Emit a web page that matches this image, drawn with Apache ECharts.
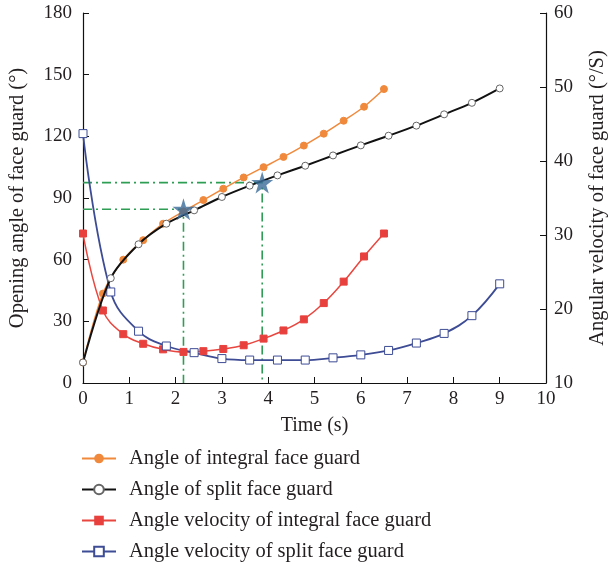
<!DOCTYPE html>
<html><head><meta charset="utf-8">
<script src="https://cdn.jsdelivr.net/npm/echarts@6/dist/echarts.min.js"></script>
<style>html,body{margin:0;padding:0;background:#fff;overflow:hidden}#c{width:608px;height:565px}</style>
</head><body><div id="c"></div>
<script>
// Time values (s)
var timeIntegral = [0, 0.43, 0.87, 1.3, 1.73, 2.17, 2.6, 3.03, 3.47, 3.9, 4.33, 4.77, 5.2, 5.63, 6.07, 6.5];
var timeSplit = [0, 0.6, 1.2, 1.8, 2.4, 3.0, 3.6, 4.2, 4.8, 5.4, 6.0, 6.6, 7.2, 7.8, 8.4, 9.0];
// Opening angle (deg) – left axis
var angleIntegral = [10, 43.5, 60, 69.5, 77.5, 83.5, 89, 94.5, 100, 105, 110, 115.5, 121.3, 127.6, 134.4, 143];
var angleSplit = [10, 51, 67.5, 77.5, 84, 90.5, 96, 101, 105.7, 110.7, 115.6, 120.3, 125.2, 130.7, 136.3, 143.3];
// Angular velocity (deg/s) – right axis
var velIntegral = [30.2, 19.8, 16.6, 15.3, 14.55, 14.2, 14.3, 14.6, 15.1, 16.0, 17.1, 18.6, 20.8, 23.7, 27.1, 30.2];
var velSplit = [43.7, 22.3, 17.0, 15.0, 14.1, 13.3, 13.1, 13.1, 13.1, 13.4, 13.8, 14.4, 15.4, 16.7, 19.1, 23.4];
// Marked points (stars) and guide lines
var starTimes = [2.17, 3.87];
var starAngles = [84.5, 97.5];
var seriesNames = ['Angle of integral face guard', 'Angle of split face guard', 'Angle velocity of integral face guard', 'Angle velocity of split face guard'];

function pairs(xs, ys){ return xs.map(function(x,i){ return [x, ys[i]]; }); }

var FONT = 'Liberation Serif';
var TXT = '#231f20';
var starPath = 'path://M50,0 L61,35 L98,35 L68,57 L79,91 L50,70 L21,91 L32,57 L2,35 L39,35 Z';

var guideSeries = [];
starTimes.forEach(function(t, i){
  var a = starAngles[i];
  guideSeries.push({
    type: 'line', yAxisIndex: 0, silent: true, symbol: 'none', z: 1,
    data: [[0, a], [t, a], [t, 0]],
    lineStyle: { color: '#2e9e55', width: 1.6, type: [9, 4, 2, 4] }
  });
});

var chart = echarts.init(document.getElementById('c'), null, { renderer: 'canvas' });
chart.setOption({
  animation: false,
  backgroundColor: '#fff',
  grid: { left: 83, right: 62, top: 13, bottom: 182, containLabel: false, outerBoundsMode: 'none' },
  legend: {
    orient: 'vertical', left: 76, top: 443, itemGap: 10, itemWidth: 34, itemHeight: 12,
    height: 130,
    textStyle: { fontFamily: FONT, fontSize: 20.5, lineHeight: 20, color: TXT, padding: [0, 0, 0, 8] },
    data: seriesNames
  },
  xAxis: {
    type: 'value', min: 0, max: 10, interval: 1,
    name: 'Time (s)', nameLocation: 'middle', nameGap: 33,
    nameTextStyle: { fontFamily: FONT, fontSize: 20, color: TXT },
    axisLine: { lineStyle: { color: '#111', width: 1.2 } },
    axisTick: { inside: true, length: 6, lineStyle: { color: '#111' } },
    axisLabel: { fontFamily: FONT, fontSize: 19, color: TXT, margin: 7 },
    splitLine: { show: false }
  },
  yAxis: [{
    type: 'value', min: 0, max: 180, interval: 30,
    name: 'Opening angle of face guard (°)', nameLocation: 'middle', nameGap: 55,
    nameTextStyle: { fontFamily: FONT, fontSize: 20.5, color: TXT },
    axisLine: { show: true, lineStyle: { color: '#111', width: 1.2 } },
    axisTick: { show: true, inside: true, length: 6, lineStyle: { color: '#111' } },
    axisLabel: { fontFamily: FONT, fontSize: 19, color: TXT, margin: 11 },
    splitLine: { show: false }
  }, {
    type: 'value', min: 10, max: 60, interval: 10, position: 'right',
    name: 'Angular velocity of face guard (°/S)', nameLocation: 'middle', nameGap: 41,
    nameTextStyle: { fontFamily: FONT, fontSize: 20.5, color: TXT },
    axisLine: { show: true, lineStyle: { color: '#111', width: 1.2 } },
    axisTick: { show: true, inside: true, length: 6, lineStyle: { color: '#111' } },
    axisLabel: { fontFamily: FONT, fontSize: 19, color: TXT, margin: 8 },
    splitLine: { show: false }
  }],
  series: guideSeries.concat([
    {
      name: seriesNames[0], type: 'line', yAxisIndex: 0, smooth: 0.3, z: 3,
      data: pairs(timeIntegral, angleIntegral),
      symbol: 'circle', symbolSize: 7, showAllSymbol: true,
      lineStyle: { color: '#f0893b', width: 1.5 },
      itemStyle: { color: '#f0893b', borderColor: '#f0893b' }
    },
    {
      name: seriesNames[1], type: 'line', yAxisIndex: 0, smooth: 0.3, z: 4,
      data: pairs(timeSplit, angleSplit),
      symbol: 'circle', symbolSize: 7, showAllSymbol: true,
      lineStyle: { color: '#111', width: 2 },
      itemStyle: { color: '#fff', borderColor: '#666', borderWidth: 1 }
    },
    {
      name: seriesNames[2], type: 'line', yAxisIndex: 1, smooth: 0.4, z: 3,
      data: pairs(timeIntegral, velIntegral),
      symbol: 'rect', symbolSize: 7, showAllSymbol: true,
      lineStyle: { color: '#e8463f', width: 1.5 },
      itemStyle: { color: '#e8403d', borderColor: '#e8403d' }
    },
    {
      name: seriesNames[3], type: 'line', yAxisIndex: 1, smooth: 0.4, z: 3,
      data: pairs(timeSplit, velSplit),
      symbol: 'rect', symbolSize: 8, showAllSymbol: true,
      lineStyle: { color: '#3d4c95', width: 1.8 },
      itemStyle: { color: '#fff', borderColor: '#3d4c95', borderWidth: 1 }
    },
    {
      type: 'scatter', yAxisIndex: 0, z: 6, silent: true,
      data: pairs(starTimes, starAngles),
      symbol: starPath, symbolSize: 22,
      itemStyle: { color: '#3a6b9a' }
    }
  ])
});
</script></body></html>
